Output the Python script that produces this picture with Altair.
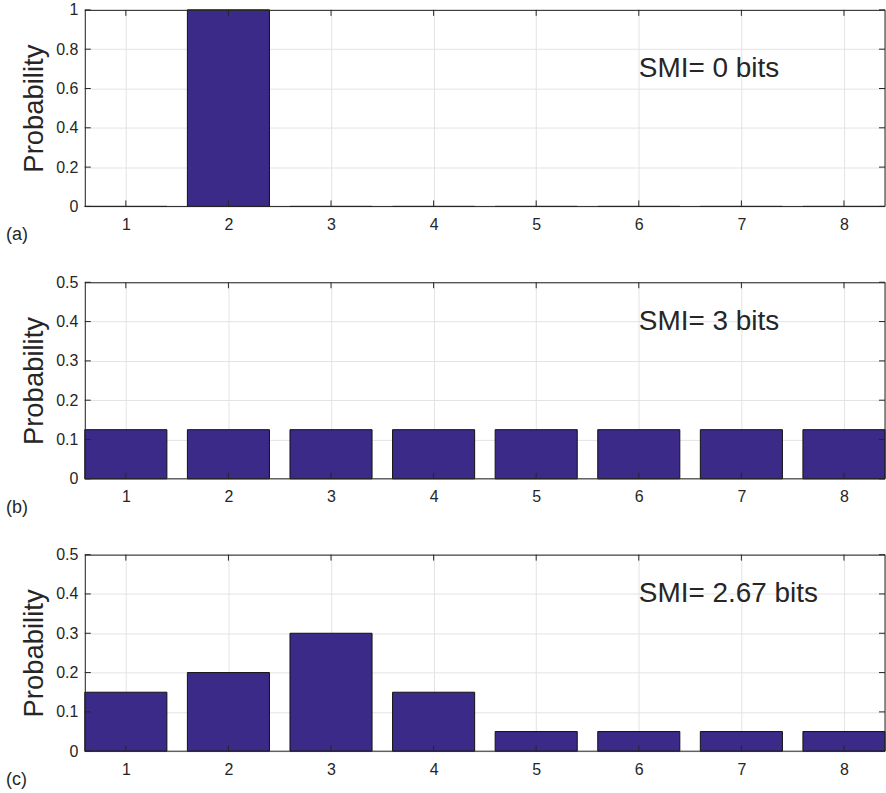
import altair as alt
import pandas as pd

# Eight equally spaced states on the x axis
states = [1, 2, 3, 4, 5, 6, 7, 8]

# Probability distributions for the three panels
p_a = [0.0, 1.0, 0.0, 0.0, 0.0, 0.0, 0.0, 0.0]
p_b = [0.125, 0.125, 0.125, 0.125, 0.125, 0.125, 0.125, 0.125]
p_c = [0.15, 0.20, 0.30, 0.15, 0.05, 0.05, 0.05, 0.05]

# Y axis ranges and tick values per panel
y_max = [1.0, 0.5, 0.5]
y_ticks = [
    [0, 0.2, 0.4, 0.6, 0.8, 1.0],
    [0, 0.1, 0.2, 0.3, 0.4, 0.5],
    [0, 0.1, 0.2, 0.3, 0.4, 0.5],
]

# Annotations: Shannon measure of information, with its anchor in data units
smi_labels = ["SMI= 0 bits", "SMI= 3 bits", "SMI= 2.67 bits"]
smi_x = [6, 6, 6]
smi_y = [0.7, 0.4, 0.4]
panel_tags = ["(a)", "(b)", "(c)"]

W, H = 802, 197
TICK = 6
FONT = "Liberation Sans"
INK = "#262626"
BAR = "#3B2A88"
GRID = "#E3E3E3"

x_scale = alt.Scale(domain=[0.6, 8.4], nice=False, zero=False)
x_axis = alt.Axis(values=states, format="d", grid=True, gridColor=GRID,
                  ticks=False, domain=False, labelPadding=10, labelFontSize=16,
                  labelColor=INK, labelFont=FONT, labelOverlap=False,
                  labelFlush=False, title=None, zindex=0)


def panel(values, ymax, yticks, smi, sx, sy, tag):
    df = pd.DataFrame({"state": states, "p": values})
    y_scale = alt.Scale(domain=[0, ymax], nice=False)
    y_axis = alt.Axis(values=yticks, format="~g", grid=True, gridColor=GRID,
                      ticks=False, domain=False, labelPadding=7, labelFontSize=16,
                      labelColor=INK, labelFont=FONT, labelOverlap=False,
                      labelFlush=False, zindex=0,
                      title="Probability", titleFontSize=27.5, titleFont=FONT,
                      titleFontWeight="normal", titleColor=INK, titlePadding=7)

    def X(field):
        return alt.X(field, scale=x_scale, axis=x_axis)

    def Y(field):
        return alt.Y(field, scale=y_scale, axis=y_axis)

    bars = alt.Chart(df).transform_calculate(
        x0="datum.state - 0.4", x1="datum.state + 0.4"
    ).mark_bar(color=BAR, stroke="#111111", strokeWidth=1).encode(
        x=X("x0:Q"), x2="x1:Q", y=Y("p:Q"), y2=alt.datum(0),
    )

    # Inward-pointing ticks on all four sides of the box
    xt = alt.Chart(pd.DataFrame({"t": states}))
    xt_bottom = xt.mark_rule(color=INK, strokeWidth=1).encode(
        x=X("t:Q"), y=alt.value(H), y2=alt.value(H - TICK))
    xt_top = xt.mark_rule(color=INK, strokeWidth=1).encode(
        x=X("t:Q"), y=alt.value(0), y2=alt.value(TICK))
    yt = alt.Chart(pd.DataFrame({"v": yticks}))
    yt_left = yt.mark_rule(color=INK, strokeWidth=1).encode(
        y=Y("v:Q"), x=alt.value(0), x2=alt.value(TICK))
    yt_right = yt.mark_rule(color=INK, strokeWidth=1).encode(
        y=Y("v:Q"), x=alt.value(W), x2=alt.value(W - TICK))

    # Axes box drawn around the plot area
    edge = alt.Chart(pd.DataFrame({"k": [0]}))
    box = [
        edge.mark_rule(color=INK, strokeWidth=1).encode(
            x=alt.value(0), x2=alt.value(W), y=alt.value(0.5)),
        edge.mark_rule(color=INK, strokeWidth=1).encode(
            x=alt.value(0), x2=alt.value(W), y=alt.value(H)),
        edge.mark_rule(color=INK, strokeWidth=1).encode(
            x=alt.value(0.5), y=alt.value(0), y2=alt.value(H)),
        edge.mark_rule(color=INK, strokeWidth=1).encode(
            x=alt.value(W), y=alt.value(0), y2=alt.value(H)),
    ]

    smi_text = alt.Chart(pd.DataFrame({"label": [smi], "sx": [sx], "sy": [sy]})).mark_text(
        align="left", baseline="middle", fontSize=28, font=FONT, color=INK
    ).encode(x=X("sx:Q"), y=Y("sy:Q"), text="label:N")

    tag_text = alt.Chart(pd.DataFrame({"tag": [tag]})).mark_text(
        align="left", baseline="middle", fontSize=18, font=FONT, color=INK
    ).encode(text="tag:N", x=alt.value(-79), y=alt.value(H + 29))

    return alt.layer(bars, xt_bottom, xt_top, yt_left, yt_right, *box,
                     smi_text, tag_text).properties(width=W, height=H)


dists = [p_a, p_b, p_c]
panels = [
    panel(dists[i], y_max[i], y_ticks[i], smi_labels[i], smi_x[i], smi_y[i], panel_tags[i])
    for i in range(3)
]

chart = alt.vconcat(*panels, spacing=76, bounds="flush").properties(
    padding={"left": 5, "top": 0, "right": 0, "bottom": 0}
).configure_view(stroke=None).configure(background="white")

chart.save("out.html", embed_options={"renderer": "svg", "actions": False})
